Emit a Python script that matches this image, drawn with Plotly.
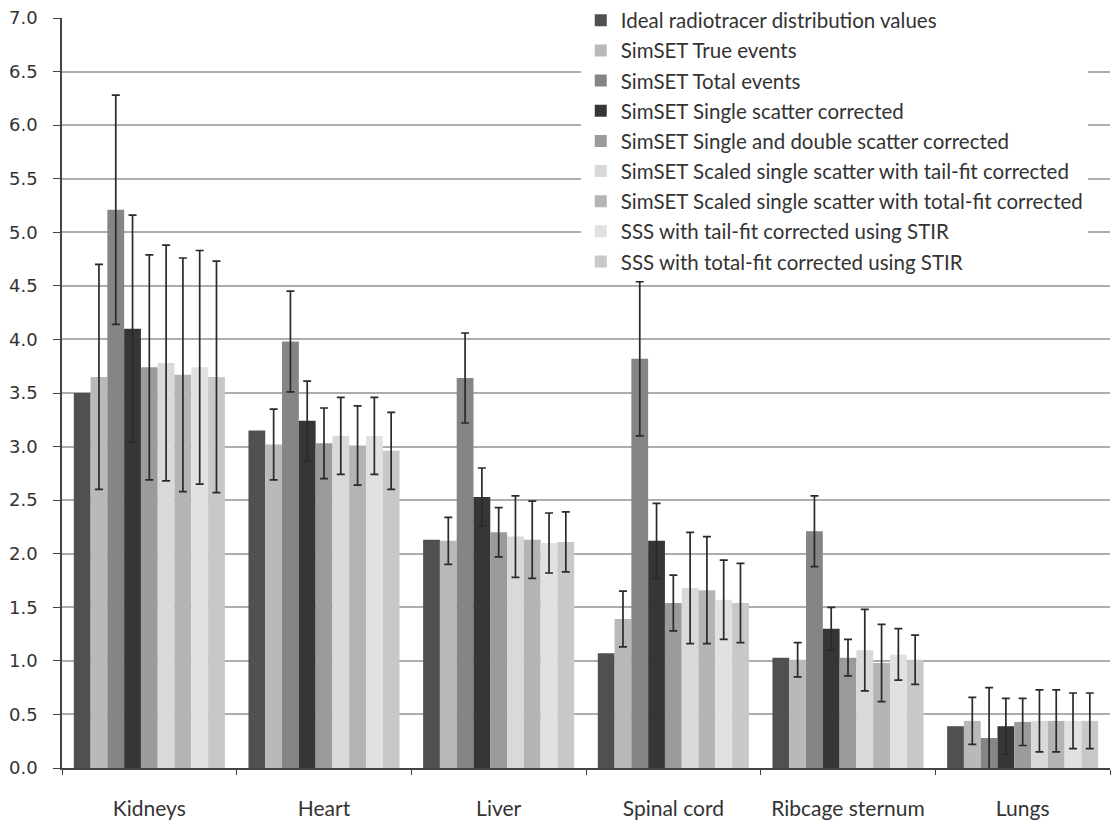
import plotly.graph_objects as go

# Organ regions (x categories)
organs = ["Kidneys", "Heart", "Liver", "Spinal cord", "Ribcage sternum", "Lungs"]

# Reconstructed activity per organ for each method, with standard deviations
ideal = [3.50, 3.15, 2.13, 1.07, 1.03, 0.39]

simset_true = [3.65, 3.02, 2.12, 1.39, 1.01, 0.44]
simset_true_sd = [1.05, 0.33, 0.22, 0.26, 0.16, 0.22]

simset_total = [5.21, 3.98, 3.64, 3.82, 2.21, 0.28]
simset_total_sd = [1.07, 0.47, 0.42, 0.72, 0.33, 0.47]

single_sc = [4.10, 3.24, 2.53, 2.12, 1.30, 0.39]
single_sc_sd = [1.06, 0.37, 0.27, 0.35, 0.20, 0.26]

single_double_sc = [3.74, 3.03, 2.20, 1.54, 1.03, 0.43]
single_double_sc_sd = [1.05, 0.33, 0.23, 0.26, 0.17, 0.22]

scaled_tail = [3.78, 3.10, 2.16, 1.68, 1.10, 0.44]
scaled_tail_sd = [1.10, 0.36, 0.38, 0.52, 0.38, 0.29]

scaled_total = [3.67, 3.01, 2.13, 1.66, 0.98, 0.44]
scaled_total_sd = [1.09, 0.37, 0.36, 0.50, 0.36, 0.29]

stir_tail = [3.74, 3.10, 2.10, 1.57, 1.06, 0.44]
stir_tail_sd = [1.09, 0.36, 0.28, 0.37, 0.24, 0.26]

stir_total = [3.65, 2.96, 2.11, 1.54, 1.01, 0.44]
stir_total_sd = [1.08, 0.36, 0.28, 0.37, 0.23, 0.26]

series_names = [
    "Ideal radiotracer distribution values",
    "SimSET True events",
    "SimSET Total events",
    "SimSET Single scatter corrected",
    "SimSET Single and double scatter corrected",
    "SimSET Scaled single scatter with tail-fit corrected",
    "SimSET Scaled single scatter with total-fit corrected",
    "SSS with tail-fit corrected using STIR",
    "SSS with total-fit corrected using STIR",
]
series_values = [ideal, simset_true, simset_total, single_sc, single_double_sc,
                 scaled_tail, scaled_total, stir_tail, stir_total]
series_sd = [None, simset_true_sd, simset_total_sd, single_sc_sd, single_double_sc_sd,
             scaled_tail_sd, scaled_total_sd, stir_tail_sd, stir_total_sd]
series_colors = ["#505050", "#b9b9b9", "#858585", "#363636", "#9b9b9b",
                 "#d9d9d9", "#b4b4b4", "#e0e1e0", "#c7c8c7"]

fig = go.Figure()
for i, (name, vals, sd, col) in enumerate(zip(series_names, series_values, series_sd, series_colors)):
    err = dict(visible=False)
    if sd is not None:
        err = dict(type="data", array=sd, visible=True, color="#2a2a2a",
                   thickness=1.7, width=4)
    fig.add_trace(go.Bar(
        x=organs, y=vals, name=name, marker=dict(color=col, line=dict(width=0)),
        error_y=err, legendgroup=f"g{i}",
    ))

fig.update_layout(
    width=1111, height=822, autosize=False,
    margin=dict(l=62, r=1, t=17, b=54),
    paper_bgcolor="white", plot_bgcolor="white",
    barmode="group", bargap=0.135, bargroupgap=0,
    font=dict(family="Lato, 'Open Sans', sans-serif", color="#333333"),
    legend=dict(
        x=0.495, xanchor="left", y=1.022, yanchor="top",
        bgcolor="white", borderwidth=0,
        font=dict(family="Lato, 'Open Sans', sans-serif", size=20.5, color="#333333"),
        tracegroupgap=0.5, itemclick=False,
    ),
    showlegend=True,
)

fig.update_yaxes(
    range=[0, 7], dtick=0.5, tickformat=".1f",
    showgrid=True, gridcolor="#adadad", gridwidth=1.8,
    showline=True, linecolor="#444444", linewidth=1.5,
    ticks="outside", ticklen=7, tickcolor="#444444",
    ticklabelstandoff=12,
    tickfont=dict(family="DejaVu Sans", size=18, color="#333333"),
    zeroline=False,
)
fig.update_xaxes(
    showline=True, linecolor="#444444", linewidth=1.5,
    ticks="outside", ticklen=5, tickcolor="#444444", tickson="boundaries",
    tickfont=dict(family="Lato, 'Open Sans', sans-serif", size=21, color="#333333"),
    ticklabelstandoff=21,
    showgrid=False,
)

fig.write_html("out.html")
